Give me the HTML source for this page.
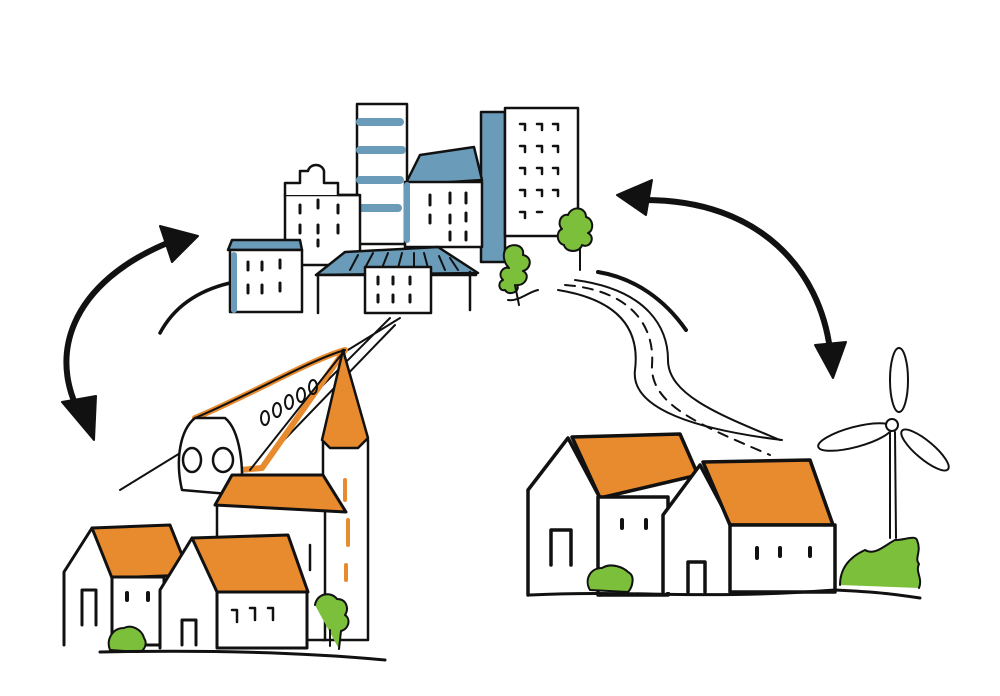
<!DOCTYPE html>
<html><head><meta charset="utf-8"><style>html,body{margin:0;padding:0;background:#fff}svg{display:block}</style></head>
<body>
<svg width="1000" height="696" viewBox="0 0 1000 696" xmlns="http://www.w3.org/2000/svg" fill="none" stroke="#111" stroke-width="2.5" stroke-linejoin="round" stroke-linecap="round">
<!-- arrows -->
<path d="M90 430 C40 360 70 280 175 240" stroke-width="6"/>
<path d="M160 226 L198 236 L172 262 Z" fill="#111" stroke-width="2"/>
<path d="M62 402 L94 440 L96 396 Z" fill="#111" stroke-width="2"/>
<path d="M645 200 C760 200 820 270 830 350" stroke-width="6"/>
<path d="M617 195 L652 180 L646 215 Z" fill="#111" stroke-width="2"/>
<path d="M815 345 L833 378 L846 342 Z" fill="#111" stroke-width="2"/>
<!-- arcs -->
<path d="M160 333 C175 305 200 290 230 283" stroke-width="3.5"/>
<path d="M598 272 C635 278 665 300 686 330" stroke-width="4"/>
<!-- city -->
<rect x="357" y="104" width="50" height="140" fill="#fff"/>
<path d="M360 122h40M360 150h42M360 180h40M360 208h38" stroke="#6a9bb8" stroke-width="8"/>
<rect x="481" y="112" width="24" height="150" fill="#6a9bb8"/>
<rect x="505" y="108" width="73" height="128" fill="#fff"/>
<g stroke-width="2.5">
<path d="M520 124h5v6M537 124h5v6M553 124h5v6M520 146h5v6M537 146h5v6M553 146h5v6M520 168h5v6M537 168h5v6M553 168h5v6M520 190h5v6M537 190h5v6M553 190h5v6M520 212h5v6M537 212h5"/>
</g>
<rect x="285" y="195" width="75" height="70" fill="#fff"/>
<path d="M285 195v-12h15v-12h8c2-8 14-8 16 0v12h14v12h20" fill="#fff"/>
<path d="M300 205v8M318 200v8M338 205v8M300 225v8M318 225v8M338 225v8M300 245v6M318 240v6" stroke-width="3"/>
<path d="M405 185 L420 155 L474 147 L482 180 Z" fill="#6a9bb8"/>
<rect x="405" y="182" width="77" height="65" fill="#fff"/>
<path d="M407 185v55" stroke="#6a9bb8" stroke-width="6"/>
<path d="M430 195v10M450 193v10M466 193v10M430 215v8M450 215v8M466 213v8M450 232v8M466 232v8" stroke-width="3"/>
<path d="M228 250 L232 240 L300 240 L302 250 Z" fill="#6a9bb8"/>
<rect x="230" y="250" width="72" height="62" fill="#fff"/>
<path d="M234 255v55" stroke="#6a9bb8" stroke-width="6"/>
<path d="M248 262v8M262 262v8M280 260v8M248 285v8M262 285v8M280 283v8" stroke-width="3"/>
<path d="M316 275 L345 252 L438 247 L478 273 Z" fill="#6a9bb8"/>
<path d="M350 270l8-15M365 268l8-15M382 268l6-15M398 268l4-15M414 268l0-15M428 268l-4-15M445 270l-6-14M458 270l-8-12" stroke-width="2"/>
<rect x="318" y="275" width="152" height="38" fill="#fff" stroke="none"/>
<path d="M318 275v38M470 272v38M316 275h160"/>
<rect x="365" y="267" width="66" height="46" fill="#fff"/>
<path d="M378 277v7M393 277v7M410 277v7M378 295v7M393 295v7M410 295v7" stroke-width="3"/>
<!-- city trees -->
<path d="M505 250c5-8 20-6 18 5c10 2 8 14 0 16c8 4 2 15-6 14c4 6-8 12-12 5c-6 2-8-8-2-10c-6-6 0-14 6-12c-6-6-6-14-4-18z" fill="#7bbf3a" stroke-width="2"/>
<path d="M515 285l4 20M508 300c10 2 20-8 30-10" stroke-width="2"/>
<path d="M568 215c4-10 18-8 18 2c8 2 8 14 2 16c8 4 2 16-6 12c-2 8-16 8-18 0c-8-2-8-14-2-16c-6-6 0-16 6-14z" fill="#7bbf3a" stroke-width="2"/>
<path d="M580 248v22" stroke-width="2"/>
<!-- road -->
<path d="M558 290 C620 300 640 330 635 370 C630 410 700 430 782 440" stroke-width="2"/>
<path d="M570 282 C640 290 665 320 666 355 C667 395 710 412 770 440" stroke="none"/>
<path d="M565 285 C630 290 655 325 652 365 C650 405 700 425 770 455" stroke-width="2" stroke-dasharray="10 8"/>
<path d="M575 280 C650 290 668 330 668 360 C668 395 720 415 780 440" stroke-width="2"/>
<!-- train -->
<path d="M120 490 L400 318M238 470 L390 318M255 470L395 325" stroke-width="2"/>
<path d="M195 418 C250 395 310 360 345 350 L262 468 L240 470 C225 440 210 420 195 418Z" fill="#fff" stroke="#e88a2e" stroke-width="6"/>
<path d="M195 418 C250 395 310 360 345 350 L250 470" stroke-width="2"/>
<path d="M195 418 C180 430 175 460 182 490 L240 495 C245 470 240 430 225 418 Z" fill="#fff"/>
<ellipse cx="192" cy="460" rx="9" ry="12"/><ellipse cx="223" cy="460" rx="10" ry="12"/>
<g stroke-width="2"><ellipse cx="265" cy="418" rx="4" ry="7"/><ellipse cx="277" cy="410" rx="4" ry="7"/><ellipse cx="289" cy="402" rx="4" ry="7"/><ellipse cx="301" cy="395" rx="4" ry="7"/><ellipse cx="313" cy="387" rx="4" ry="7"/></g>
<!-- church -->
<rect x="323" y="440" width="45" height="200" fill="#fff"/>
<path d="M322 440 L343 350 L368 438 L358 448 L330 448 Z" fill="#e88a2e"/>
<path d="M345 480v20M348 520v25M346 565v15" stroke="#e88a2e" stroke-width="4"/>
<rect x="217" y="505" width="108" height="135" fill="#fff"/>
<path d="M215 505 L232 475 L323 475 L346 512 Z" fill="#e88a2e" stroke-width="3"/>
<path d="M310 545v25" stroke-width="2.5"/>
<!-- left houses -->
<path d="M64 645V572L92 528L115 580V645" fill="#fff" stroke-width="3"/>
<path d="M92 528 L170 525 L190 575 L112 578 Z" fill="#e88a2e" stroke-width="3"/>
<rect x="112" y="577" width="52" height="68" fill="#fff" stroke-width="3"/>
<path d="M82 625v-35h14v35" stroke-width="3"/>
<path d="M127 593v7M148 593v7" stroke-width="4"/>
<path d="M160 648V590L192 538L220 590V648" fill="#fff" stroke-width="3"/>
<path d="M192 538 L288 535 L308 592 L217 592 Z" fill="#e88a2e" stroke-width="3"/>
<rect x="217" y="592" width="90" height="56" fill="#fff" stroke-width="3"/>
<path d="M182 645v-25h14v25" stroke-width="3"/>
<path d="M232 610h5v12M250 608h5v12M268 608h5v12" stroke-width="2.5"/>
<path d="M110 650c-4-10 2-22 14-22c8-4 18 2 20 10c4 6 0 14-6 14z" fill="#7bbf3a" stroke-width="2"/>
<path d="M315 605c2-12 16-14 22-6c10 0 12 10 8 16c6 4 4 14-4 16l-2 18M330 630v16" fill="#7bbf3a" stroke-width="2"/>
<path d="M100 652 C200 650 300 652 385 660" stroke-width="3"/>
<!-- right houses -->
<path d="M528 595V490L568 438L600 498V595" fill="#fff" stroke-width="3.5"/>
<path d="M572 437 L680 434 L698 475 L600 498 Z" fill="#e88a2e" stroke-width="3.5"/>
<rect x="598" y="497" width="70" height="98" fill="#fff" stroke-width="3.5"/>
<path d="M551 565v-35h20v35" stroke-width="3.5"/>
<path d="M622 520v8M646 520v8" stroke-width="4"/>
<path d="M663 592V515L700 465L732 525V592" fill="#fff" stroke-width="3.5"/>
<path d="M703 462 L810 460 L833 525 L730 525 Z" fill="#e88a2e" stroke-width="3.5"/>
<rect x="730" y="525" width="105" height="67" fill="#fff" stroke-width="3.5"/>
<path d="M688 592v-30h17v30" stroke-width="3.5"/>
<path d="M757 548v10M780 548v8M810 548v8" stroke-width="4"/>
<!-- windmill -->
<path d="M890 432 L890 538M895 432 L896 538" stroke-width="2"/>
<ellipse cx="899" cy="380" rx="9" ry="32" stroke-width="2"/>
<ellipse cx="855" cy="437" rx="38" ry="10" transform="rotate(-15 855 437)" stroke-width="2"/>
<ellipse cx="925" cy="450" rx="30" ry="9" transform="rotate(40 925 450)" stroke-width="2"/>
<circle cx="892" cy="425" r="6" fill="#fff" stroke-width="2"/>
<!-- bushes -->
<path d="M590 590c-6-10 0-22 12-22c10-6 22 0 26 4c8 4 4 16 0 20z" fill="#7bbf3a" stroke-width="2"/>
<path d="M840 585 c0-20 14-30 25-35c10 6 20-5 30-10c10 0 20-5 22 0c5 12-3 18 2 24c-4 8 4 14 0 24" fill="#7bbf3a" stroke-width="2"/>
<path d="M530 595 C640 590 700 600 835 590 C880 592 900 595 920 598" stroke-width="3"/>
</svg>
</body></html>
